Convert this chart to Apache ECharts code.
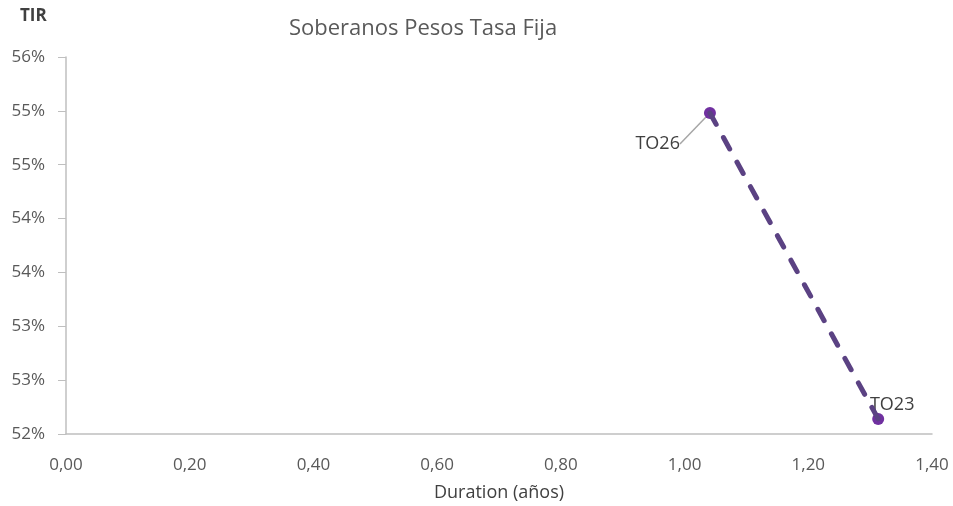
<!DOCTYPE html>
<html>
<head>
<meta charset="utf-8">
<script src="https://cdn.jsdelivr.net/npm/echarts@6/dist/echarts.min.js"></script>
<style>
  html, body { margin: 0; padding: 0; background: #fff; }
  #chart { width: 953px; height: 506px; }
</style>
</head>
<body>
<div id="chart"></div>
<script>
const bonds = ['TO26', 'TO23'];
const duration = [1.041, 1.313];
const tir = [54.98, 52.14];

const font = '"Open Sans", "Noto Sans", sans-serif';
const chart = echarts.init(document.getElementById('chart'));

const points = bonds.map((b, i) => ({
  name: b,
  value: [duration[i], tir[i]],
  labelLine: { show: i === 0 }
}));

chart.setOption({
  animation: false,
  textStyle: { fontFamily: font },
  title: [{
    text: 'Soberanos Pesos Tasa Fija',
    left: 418, top: 13, textAlign: 'center',
    textStyle: { fontFamily: font, fontSize: 22, fontWeight: 'normal', color: '#595959' }
  }, {
    text: 'TIR',
    left: 15, top: 3,
    textStyle: { fontFamily: font, fontSize: 17, fontWeight: 'bold', color: '#404040' }
  }],
  grid: { left: 66, right: 21, top: 57, bottom: 72, containLabel: false, outerBoundsMode: 'none' },
  xAxis: {
    type: 'value', min: 0, max: 1.4, interval: 0.2,
    name: 'Duration (años)', nameLocation: 'middle', nameGap: 50,
    nameTextStyle: { fontSize: 18, color: '#404040', fontFamily: font },
    axisLine: { show: true, lineStyle: { color: '#bfbfbf', width: 1.5 } },
    axisTick: { show: false },
    splitLine: { show: false },
    axisLabel: {
      fontSize: 17, color: '#595959', margin: 23,
      formatter: v => v.toFixed(2).replace('.', ',')
    }
  },
  yAxis: {
    type: 'value', min: 52, max: 55.5, interval: 0.5,
    axisLine: { show: true, lineStyle: { color: '#bfbfbf', width: 1.5 } },
    axisTick: { show: true, inside: false, length: 8, lineStyle: { color: '#bfbfbf' } },
    splitLine: { show: false },
    axisLabel: {
      fontSize: 17, color: '#595959', margin: 21,
      formatter: v => Math.round(v) + '%'
    }
  },
  series: [
    {
      type: 'line',
      data: points.map(p => p.value),
      symbol: 'none',
      z: 3,
      lineStyle: { color: '#5b4283', width: 5, type: [13, 15], cap: 'round' }
    },
    {
      type: 'scatter',
      data: points,
      symbolSize: 12,
      z: 2,
      itemStyle: { color: '#7030a0', opacity: 1 },
      label: {
        show: true,
        formatter: '{b}',
        fontSize: 18,
        color: '#404040',
        fontFamily: font
      },
      labelLine: { show: true, lineStyle: { color: '#a6a6a6', width: 1.5 } },
      labelLayout: function (params) {
        if (params.dataIndex === 0) {
          return { x: params.rect.x - 24, y: params.rect.y + 37, align: 'right', verticalAlign: 'middle' };
        }
        return { x: params.rect.x + params.rect.width / 2 + 14, y: params.rect.y - 8, align: 'center', verticalAlign: 'middle' };
      }
    }
  ]
});
</script>
</body>
</html>
